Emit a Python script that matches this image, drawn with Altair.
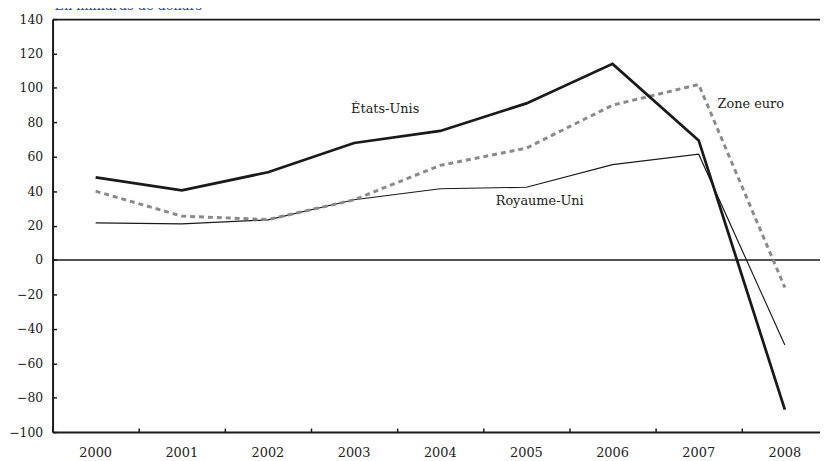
import altair as alt
import pandas as pd

years = ["2000", "2001", "2002", "2003", "2004", "2005", "2006", "2007", "2008"]
etats_unis = [48, 40.5, 51, 68, 75, 91, 114, 69.5, -87]
zone_euro = [40, 25.5, 23.5, 35, 55, 65, 90, 102, -16]
royaume_uni = [21.6, 21, 23.3, 35, 41.4, 42.3, 55.4, 61.5, -49.4]
y_ticks = [-100, -80, -60, -40, -20, 0, 20, 40, 60, 80, 100, 120, 140]
title_text = "En milliards de dollars"

# label anchors (category, value)
label_text = ["États-Unis", "Zone euro", "Royaume-Uni"]
label_year = ["2003", "2007", "2005"]
label_value = [88, 90.5, 34.2]

FONT = "DejaVu Serif"
INK = "#1a1a1a"
TXT = "#222222"

xscale = alt.Scale(type="band", range=[0, 783], paddingInner=0, paddingOuter=0)
yscale = alt.Scale(domain=[-100, 140], nice=False, zero=False)


def series_df(vals):
    return pd.DataFrame({"year": years, "value": vals})


us = alt.Chart(series_df(etats_unis)).mark_line(
    color=INK, strokeWidth=2.8, strokeCap="butt", strokeJoin="miter").encode(
    x=alt.X("year:O", scale=xscale,
            axis=alt.Axis(orient="bottom", title=None, labelAngle=0, ticks=False,
                          domainColor=INK, domainWidth=2, labelPadding=15,
                          labelFont=FONT, labelFontSize=13, labelColor=TXT)),
    y=alt.Y("value:Q", scale=yscale,
            axis=alt.Axis(orient="left", title=None, values=y_ticks, ticks=False,
                          domainColor=INK, domainWidth=2, labelPadding=10,
                          labelFont=FONT, labelFontSize=12.5, labelColor=TXT)),
)

ez = alt.Chart(series_df(zone_euro)).mark_line(
    color="#8a8a8a", strokeWidth=3, strokeDash=[5, 4], strokeCap="butt").encode(
    x=alt.X("year:O", scale=xscale, axis=None),
    y=alt.Y("value:Q", scale=yscale, axis=None),
)

uk = alt.Chart(series_df(royaume_uni)).mark_line(
    color=INK, strokeWidth=1.2, strokeCap="butt").encode(
    x=alt.X("year:O", scale=xscale, axis=None),
    y=alt.Y("value:Q", scale=yscale, axis=None),
)

zero = alt.Chart(pd.DataFrame({"v": [0]})).mark_rule(color=INK, strokeWidth=1.5).encode(
    y=alt.Y("v:Q", scale=yscale, axis=None)
)

tick_layer = alt.Chart(series_df(etats_unis)).mark_point(opacity=0).encode(
    x=alt.X("year:O", scale=xscale,
            axis=alt.Axis(orient="bottom", offset=-4, tickSize=4, ticks=True, tickBand="extent",
                          tickColor=INK, tickWidth=1.5, labels=False, domain=False, title=None)),
    y=alt.Y("value:Q", scale=yscale,
            axis=alt.Axis(orient="left", offset=-4, values=y_ticks, tickSize=4, ticks=True,
                          tickColor=INK, tickWidth=1.5, labels=False, domain=False, title=None)),
)

top_border = alt.Chart(series_df(etats_unis)).mark_point(opacity=0).encode(
    x=alt.X("year:O", scale=xscale,
            axis=alt.Axis(orient="top", ticks=False, labels=False, domain=True,
                          domainColor=INK, domainWidth=2, title=None)),
    y=alt.Y("value:Q", scale=yscale, axis=None),
)


def label(i, dx, align):
    d = pd.DataFrame({"t": [label_text[i]], "year": [label_year[i]], "v": [label_value[i]]})
    return alt.Chart(d).mark_text(align=align, baseline="middle", dx=dx, font=FONT,
                                  fontSize=13, color=TXT).encode(
        x=alt.X("year:O", scale=xscale, axis=None),
        y=alt.Y("v:Q", scale=yscale, axis=None),
        text="t:N",
    )


chart = alt.layer(
    zero, uk, ez, us, tick_layer, top_border,
    label(0, -3, "left"), label(1, 19, "left"), label(2, -31, "left"),
).resolve_axis(x="independent", y="independent").properties(
    width=775, height=417,
    autosize=alt.AutoSizeParams(type="none"),
    padding={"left": 45, "top": 9, "right": 0, "bottom": 27},
    background="white",
    title=alt.Title(text=title_text, anchor="start", frame="group", color="#2343c4",
                    font=FONT, fontSize=13, fontWeight="normal", offset=0.5, dx=2),
).configure_axis(grid=False).configure_view(stroke=None)

chart.save("out.html", embed_options={"renderer": "svg", "actions": False})
